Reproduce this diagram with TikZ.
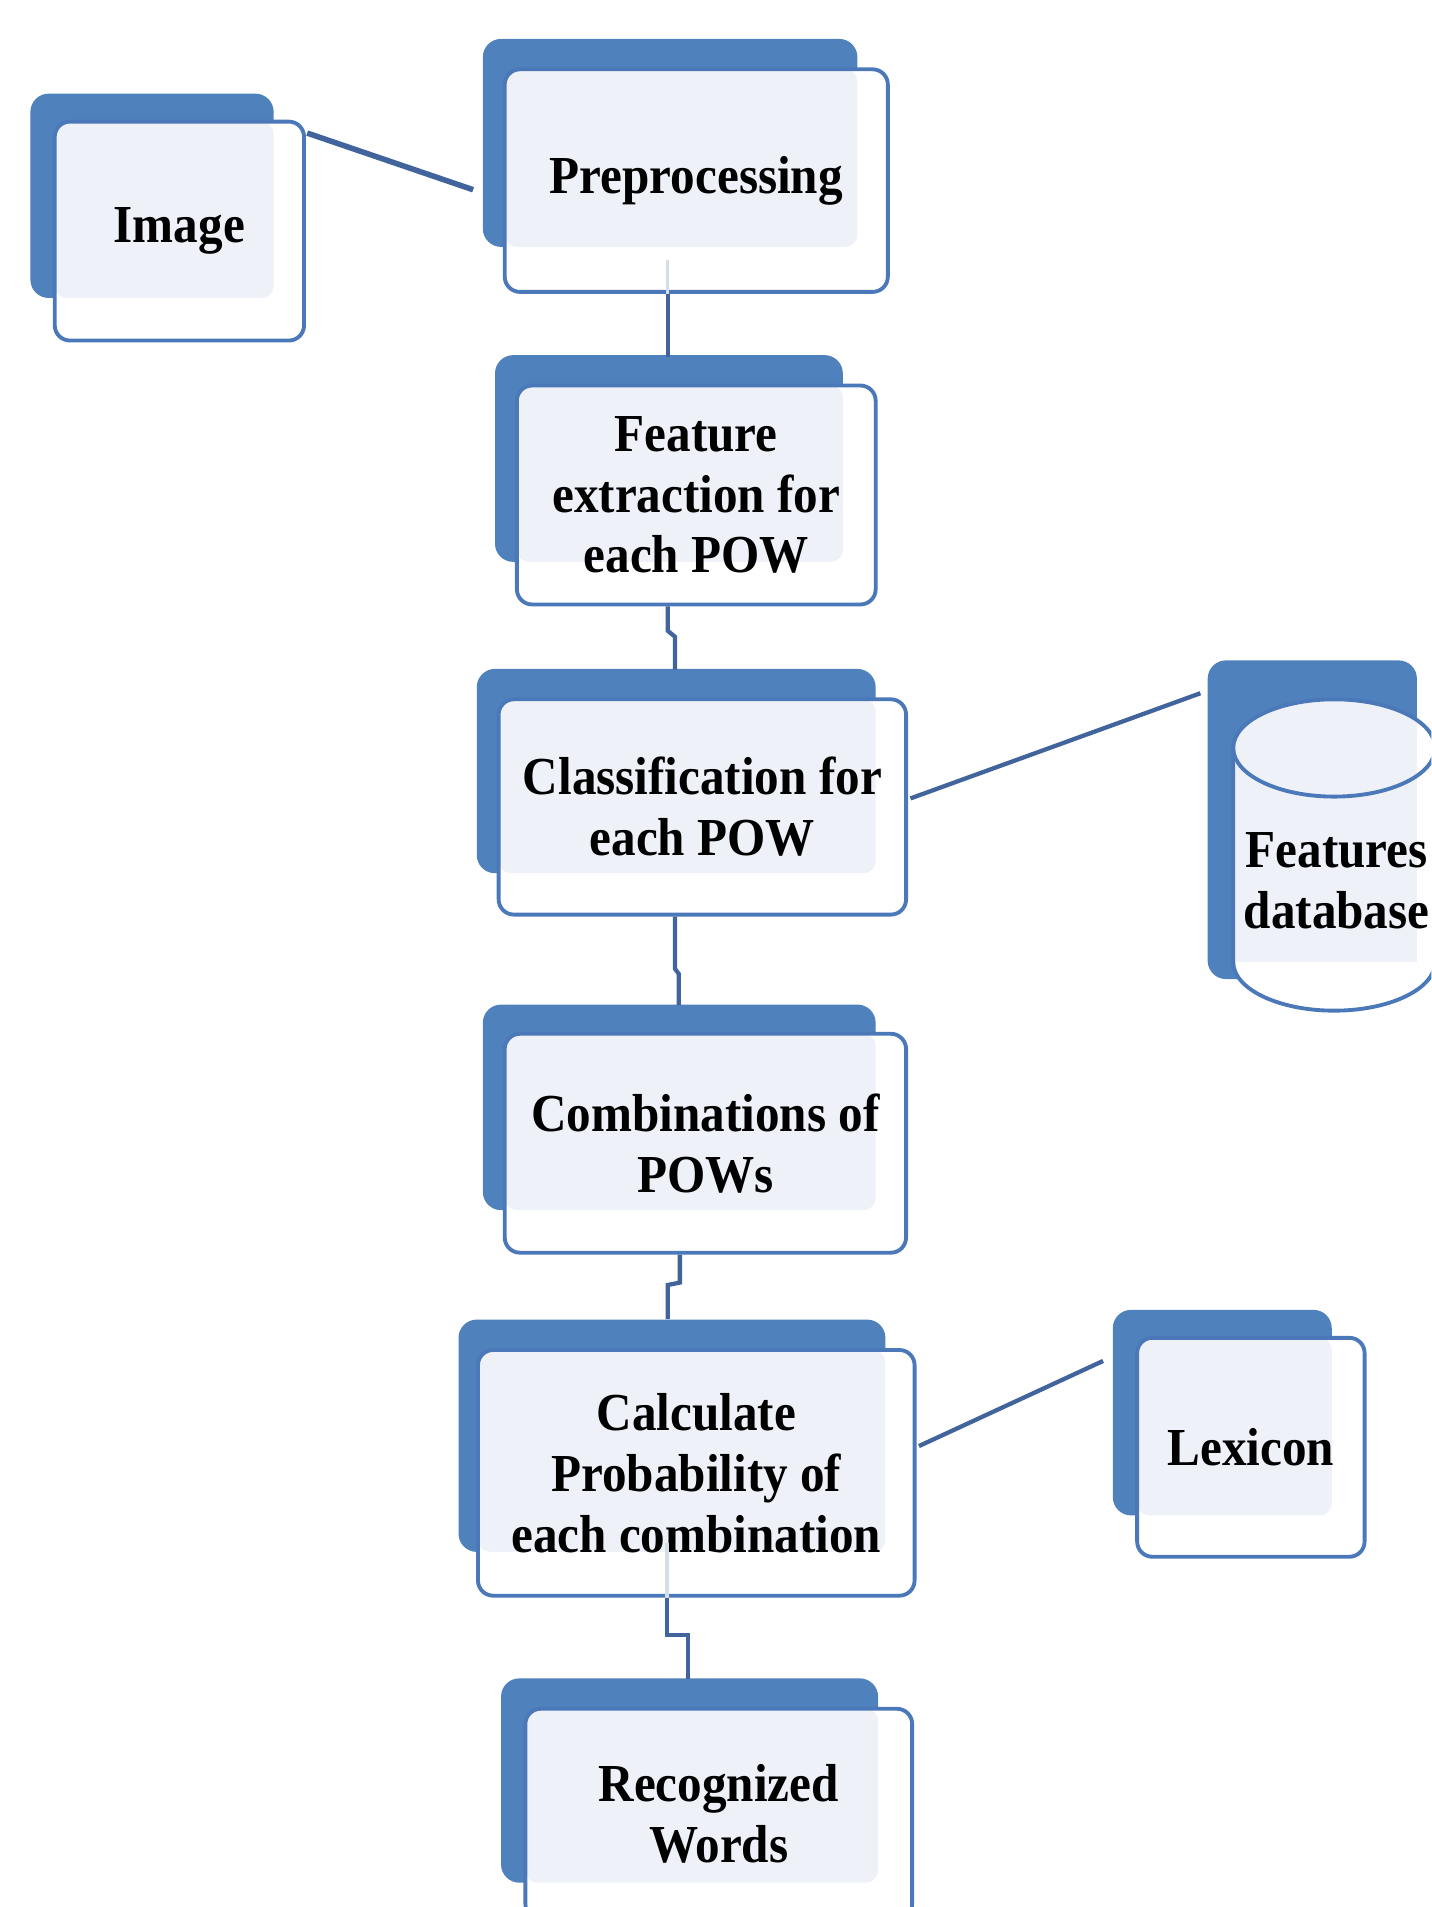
\documentclass[tikz,border=0pt]{standalone}
\usepackage{fontspec}
\setmainfont{Liberation Serif}[FakeStretch=0.92]
\usetikzlibrary{fit,calc}
\definecolor{backblue}{HTML}{4F81BD}
\definecolor{edgeblue}{HTML}{4A78B8}
\definecolor{tintc}{HTML}{EEF1F8}
\definecolor{connc}{HTML}{41649C}
\tikzset{
  backbox/.style={fill=backblue, rounded corners=0.3cm},
  frontfill/.style={fill=white, rounded corners=0.25cm},
  tintbox/.style={fill=tintc, rounded corners=0.2cm},
  boxfont/.style={font=\fontsize{25}{28.5}\selectfont\bfseries, text=black},
  frontbox/.style={draw=edgeblue, line width=1.8pt, rounded corners=0.25cm, inner sep=0pt},
  boxtext/.style={boxfont, align=center, inner sep=0pt},
  edgeline/.style={draw=edgeblue, line width=1.8pt},
  conn/.style={draw=connc, line width=2pt},
  faint/.style={draw=connc!22, line width=1.6pt},
}
\newcommand\flowbox[6]{%
  \fill[backbox] (#2) rectangle (#3);
  \fill[frontfill] (#4) rectangle (#5);
  \fill[tintbox] (#4) rectangle (#3);
  \node[frontbox, fit={(#4) (#5)}] (#1) {};
  \node[boxtext] (#1-text) at (#1.center) {#6};
}
\begin{document}
\begin{tikzpicture}[x=0.02cm, y=-0.02cm]
\useasboundingbox (0,0) rectangle (1177,1568);
\fill[white] (0,0) rectangle (1177,1568);
\clip (0,0) rectangle (1177,1568);

% process boxes
\flowbox{img}{25,77}{225,245}{45,100}{250,280}{Image}
\flowbox{pre}{397,32}{705,203}{415,57}{730,240}{Preprocessing}
\flowbox{feat}{407,292}{693,462}{425,317}{720,497}{Feature\\extraction for\\each POW}
\flowbox{cls}{392,550}{720,718}{410,575}{745,752}{Classification for\\each POW}
\flowbox{comb}{397,826}{720,995}{415,850}{745,1030}{Combinations of\\POWs}
\flowbox{calc}{377,1085}{728,1276}{393,1110}{752,1312}{Calculate\\Probability of\\each combination}
\flowbox{lex}{915,1077}{1095,1246}{935,1100}{1122,1280}{Lexicon}
\flowbox{rec}{412,1380}{722,1548}{432,1405}{750,1578}{Recognized\\Words}

% features database (cylinder)
\fill[backbox] (993,543) rectangle (1165,805);
\fill[white] (1014,615) -- (1014,791) arc[start angle=180, end angle=360, x radius=1.66cm, y radius=0.8cm] -- (1180,615) -- cycle;
\fill[white] (1097,615) ellipse [x radius=1.66cm, y radius=0.8cm];
\begin{scope}
  \clip (993,543) rectangle (1165,805);
  \fill[tintc] (1014,615) -- (1014,791) -- (1180,791) -- (1180,615) -- cycle;
  \fill[tintc] (1097,615) ellipse [x radius=1.66cm, y radius=0.8cm];
\end{scope}
\draw[edgeline] (1014,615) -- (1014,791) arc[start angle=180, end angle=360, x radius=1.66cm, y radius=0.8cm] -- (1180,615);
\draw[edgeline] (1097,615) ellipse [x radius=1.66cm, y radius=0.8cm];
\node[boxtext] (db) at (1099,724) {Features\\database};

% connectors
\coordinate (preIn) at (389,156);
\coordinate (dbIn) at (987,570);
\coordinate (lexIn) at (907,1119);

\draw[conn, line width=2.6pt] ($(img.north east)+(1,11)$) -- (preIn);
\draw[faint] ($(pre.south)+(-23.5,-28)$) -- ($(pre.south)+(-23.5,0)$);
\draw[conn] ($(pre.south)+(-23.5,0)$) -- ++(0,52);
\draw[conn] ($(feat.south)+(-23.5,0)$) -- ++(0,20) -- ++(6,5) -- ++(0,27);
\draw[conn] ($(cls.south)+(-22.5,0)$) -- ++(0,43) -- ++(3,4) -- ++(0,26);
\draw[conn] ($(cls.east)+(2,-7)$) -- (dbIn);
\draw[conn] ($(comb.south)+(-21,0)$) -- ++(0,23) -- ++(-10,2) -- ++(0,28);
\draw[conn] ($(calc.east)+(2,-22)$) -- (lexIn);
\draw[faint] ($(calc.south)+(-24,-45)$) -- ($(calc.south)+(-24,0)$);
\draw[conn] ($(calc.south)+(-24,0)$) -- ++(0,31) -- ++(17,0) -- ++(0,36);
\end{tikzpicture}
\end{document}
